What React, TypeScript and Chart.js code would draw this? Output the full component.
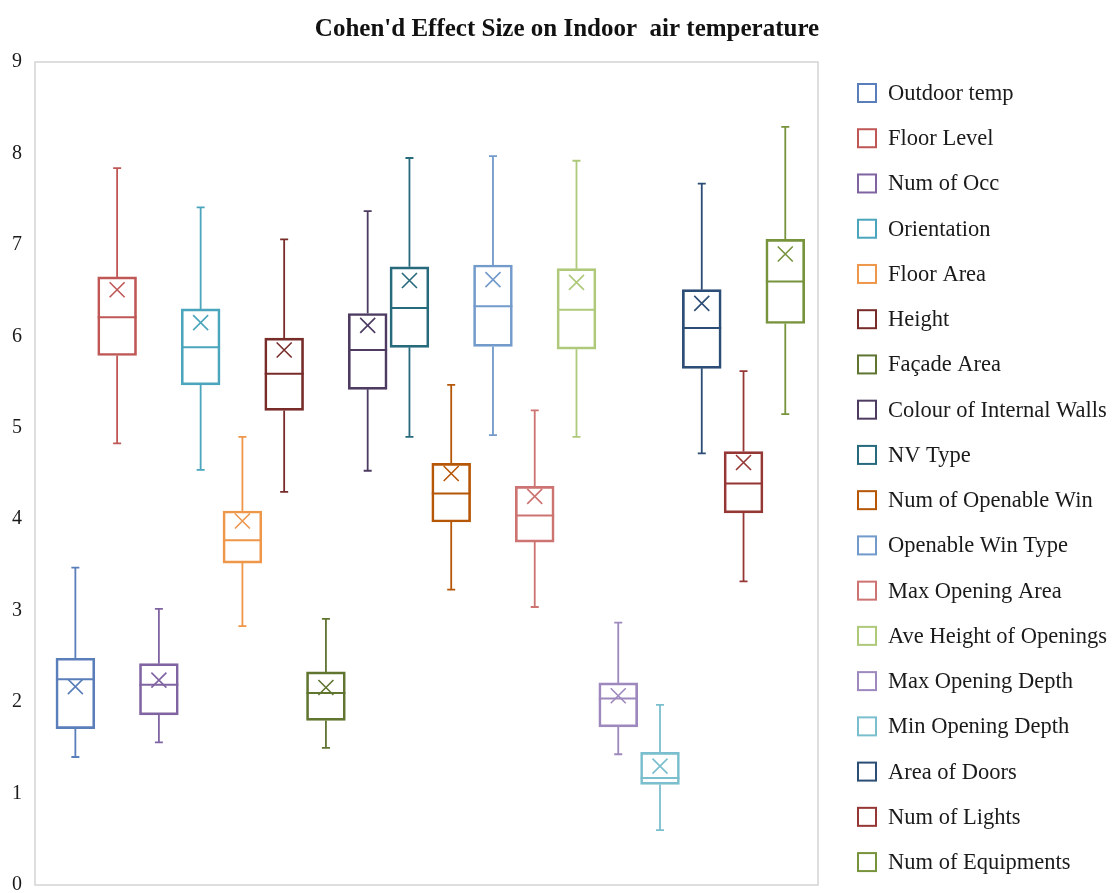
import React, { useEffect, useRef } from "react";
import { Chart, registerables } from "chart.js";

Chart.register(...registerables);

const seriesNames = [
  "Outdoor temp",
  "Floor Level",
  "Num of Occ",
  "Orientation",
  "Floor Area",
  "Height",
  "Façade Area",
  "Colour of Internal Walls",
  "NV Type",
  "Num of Openable Win",
  "Openable Win Type",
  "Max Opening Area",
  "Ave Height of Openings",
  "Max Opening Depth",
  "Min Opening Depth",
  "Area of Doors",
  "Num of Lights",
  "Num of Equipments",
];

const seriesColors = [
  "#5A7EBA",
  "#BE5755",
  "#8064A2",
  "#4AA5BD",
  "#EE964A",
  "#772C2A",
  "#5F7530",
  "#4D3B62",
  "#276A7C",
  "#B65708",
  "#729ACA",
  "#CD7371",
  "#AFC97A",
  "#9E89BE",
  "#7BBFCF",
  "#2C4D75",
  "#953735",
  "#77933C",
];

const minValues = [1.40, 4.83, 1.56, 4.54, 2.83, 4.30, 1.50, 4.53, 4.90, 3.23, 4.92, 3.04, 4.90, 1.43, 0.60, 4.72, 3.32, 5.15];
const q1Values = [1.71, 5.79, 1.86, 5.47, 3.52, 5.19, 1.80, 5.42, 5.88, 3.97, 5.89, 3.75, 5.86, 1.73, 1.10, 5.65, 4.07, 6.14];
const medianValues = [2.25, 6.21, 2.19, 5.88, 3.77, 5.59, 2.10, 5.85, 6.31, 4.28, 6.33, 4.04, 6.29, 2.04, 1.17, 6.09, 4.39, 6.60];
const q3Values = [2.48, 6.65, 2.42, 6.30, 4.09, 5.98, 2.33, 6.25, 6.76, 4.61, 6.78, 4.36, 6.74, 2.21, 1.45, 6.51, 4.74, 7.06];
const maxValues = [3.47, 7.84, 3.02, 7.41, 4.90, 7.06, 2.91, 7.37, 7.95, 5.47, 7.97, 5.19, 7.92, 2.87, 1.97, 7.67, 5.62, 8.29];
const meanValues = [2.17, 6.51, 2.24, 6.15, 3.98, 5.85, 2.16, 6.12, 6.61, 4.50, 6.62, 4.25, 6.59, 2.07, 1.30, 6.36, 4.62, 6.90];

const yTicks = [0, 1, 2, 3, 4, 5, 6, 7, 8, 9];

// single group position on the (hidden) x axis and its range
const groupX = 0;
const xMin = -0.5057;
const xMax = 0.4943;

const titleText = "Cohen'd Effect Size on Indoor  air temperature";

const SERIF = "'Liberation Serif', 'Times New Roman', serif";

const framePlugin = {
  id: "frame",
  beforeDatasetsDraw(chart: any) {
    const { ctx, chartArea } = chart;
    ctx.save();
    ctx.strokeStyle = "#D4D4D4";
    ctx.lineWidth = 1.5;
    ctx.strokeRect(chartArea.left, chartArea.top, chartArea.right - chartArea.left, chartArea.bottom - chartArea.top);
    ctx.restore();
  },
};

const boxPlugin = {
  id: "boxWhisker",
  afterDatasetsDraw(chart: any) {
    const { ctx } = chart;
    const y = chart.scales.y;
    chart.data.datasets.forEach((ds: any, i: number) => {
      const meta = chart.getDatasetMeta(i);
      const el: any = meta.data[0];
      if (!el) return;
      const x = el.x;
      const w = el.width;
      const color = ds.borderColor;
      const yMin = y.getPixelForValue(minValues[i]);
      const yQ1 = y.getPixelForValue(q1Values[i]);
      const yMed = y.getPixelForValue(medianValues[i]);
      const yQ3 = y.getPixelForValue(q3Values[i]);
      const yMax = y.getPixelForValue(maxValues[i]);
      const yMean = y.getPixelForValue(meanValues[i]);
      ctx.save();
      ctx.strokeStyle = color;
      ctx.lineWidth = 1.8;
      ctx.lineCap = "butt";
      ctx.beginPath();
      ctx.moveTo(x, yQ3);
      ctx.lineTo(x, yMax);
      ctx.moveTo(x, yQ1);
      ctx.lineTo(x, yMin);
      const cap = 4;
      ctx.moveTo(x - cap, yMax);
      ctx.lineTo(x + cap, yMax);
      ctx.moveTo(x - cap, yMin);
      ctx.lineTo(x + cap, yMin);
      ctx.stroke();
      ctx.lineWidth = 2;
      ctx.beginPath();
      ctx.moveTo(x - w / 2, yMed);
      ctx.lineTo(x + w / 2, yMed);
      ctx.stroke();
      const m = 7.5;
      ctx.lineWidth = 1.6;
      ctx.beginPath();
      ctx.moveTo(x - m, yMean - m);
      ctx.lineTo(x + m, yMean + m);
      ctx.moveTo(x - m, yMean + m);
      ctx.lineTo(x + m, yMean - m);
      ctx.stroke();
      ctx.restore();
    });
  },
};

const legendPlugin = {
  id: "sideLegend",
  afterDraw(chart: any) {
    const { ctx, chartArea } = chart;
    const x0 = chartArea.right + 40;
    const step = 45.24;
    ctx.save();
    chart.data.datasets.forEach((ds: any, i: number) => {
      const cy = chartArea.top + 31 + i * step;
      ctx.strokeStyle = ds.borderColor;
      ctx.lineWidth = 2;
      ctx.strokeRect(x0, cy - 9, 18, 18);
      ctx.fillStyle = "#1a1a1a";
      ctx.font = `22.5px ${SERIF}`;
      ctx.textBaseline = "middle";
      ctx.textAlign = "left";
      ctx.fillText(ds.label, x0 + 30, cy + 1);
    });
    ctx.restore();
  },
};

export default function App() {
  const canvasRef = useRef<HTMLCanvasElement | null>(null);

  useEffect(() => {
    if (!canvasRef.current) return;
    const datasets = seriesNames.map((name, i) => ({
      label: name,
      data: [{ x: groupX, y: [q1Values[i], q3Values[i]] }],
      backgroundColor: "rgba(255,255,255,0)",
      borderColor: seriesColors[i],
      borderWidth: 2,
      borderSkipped: false,
      barThickness: "flex",
      categoryPercentage: 0.96,
      barPercentage: 0.93,
    }));

    const chart = new Chart(canvasRef.current, {
      type: "bar",
      data: { datasets: datasets as any },
      options: {
        animation: false,
        responsive: false,
        layout: { padding: { left: 12, right: -7, top: 0, bottom: 8 } },
        plugins: {
          title: {
            display: true,
            text: titleText,
            color: "#111",
            font: { family: SERIF, size: 25, weight: "bold" },
            padding: { top: 15, bottom: 17 },
          },
          legend: { display: false },
          tooltip: { enabled: false },
        },
        scales: {
          x: {
            type: "linear",
            display: false,
            min: xMin,
            max: xMax,
          },
          y: {
            type: "linear",
            min: 0,
            max: 9,
            afterBuildTicks: (scale: any) => {
              scale.ticks = yTicks.map((v) => ({ value: v }));
            },
            afterFit: (scale: any) => {
              scale.width = 23;
              scale.paddingTop = 0;
              scale.paddingBottom = 0;
            },
            grid: { display: false, drawTicks: false },
            border: { display: false },
            ticks: {
              padding: 13,
              color: "#1a1a1a",
              font: { family: SERIF, size: 20 },
            },
          },
          spacer: {
            type: "linear",
            position: "right",
            display: true,
            grid: { display: false, drawTicks: false },
            border: { display: false },
            ticks: { display: false },
            afterFit: (scale: any) => {
              scale.width = 304;
              scale.paddingTop = 0;
              scale.paddingBottom = 0;
            },
          },
        },
      } as any,
      plugins: [framePlugin, boxPlugin, legendPlugin],
    });
    return () => chart.destroy();
  }, []);

  return (
    <div style={{ position: "absolute", left: 0, top: 0, width: 1115, height: 893, background: "#fff" }}>
      <canvas ref={canvasRef} width={1115} height={893} style={{ display: "block" }} />
    </div>
  );
}
